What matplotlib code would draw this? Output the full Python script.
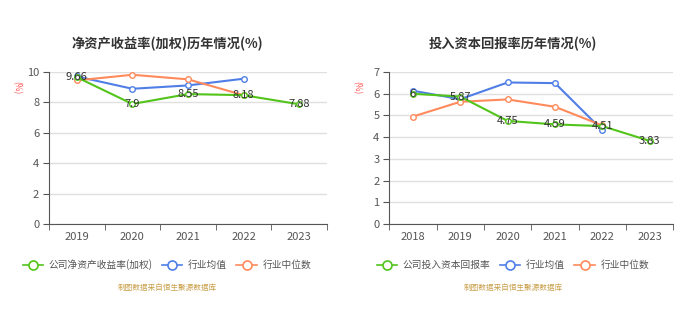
import matplotlib
matplotlib.use('Agg')
import matplotlib.pyplot as plt
from matplotlib.lines import Line2D
import numpy as np

plt.rcParams['font.family'] = ['Noto Sans CJK SC', 'DejaVu Sans']

# left chart: ROE (weighted)
years_l = ['2019', '2020', '2021', '2022', '2023']
roe_company = [9.66, 7.9, 8.55, 8.48, 7.88]
roe_avg = [9.71, 8.9, 9.12, 9.56, None]
roe_median = [9.45, 9.82, 9.52, 8.48, None]
roe_labels = ['9.66', '7.9', '8.55', '8.18', '7.88']

# right chart: ROIC
years_r = ['2018', '2019', '2020', '2021', '2022', '2023']
roic_company = [6.0, 5.87, 4.75, 4.59, 4.51, 3.83]
roic_avg = [6.14, 5.75, 6.52, 6.49, 4.32, None]
roic_median = [4.95, 5.63, 5.74, 5.40, 4.54, None]
roic_labels = ['6', '5.87', '4.75', '4.59', '4.51', '3.83']

GREEN = '#52c41a'
BLUE = '#4f7fe6'
ORANGE = '#ff8a5c'
AXC = '#555555'


def clean(vals):
    return np.array([np.nan if v is None else v for v in vals], dtype=float)


def draw(fig, ax, cx, years, comp, avg, med, labels, ymax, title, names):
    x = np.arange(len(years))
    for vals, c, z in [(avg, BLUE, 3), (med, ORANGE, 3), (comp, GREEN, 4)]:
        ax.plot(x, clean(vals), color=c, lw=1.5, marker='o', ms=4,
                mfc='white', mec=c, mew=1, zorder=z)
    for xi, v, t in zip(x, comp, labels):
        ax.text(xi, v, t, ha='center', va='center',
                fontsize=8, color='#333333', zorder=6)
    ax.set_xlim(-0.5, len(years) - 0.5)
    ax.set_ylim(0, ymax)
    ax.set_xticks(x)
    ax.set_xticklabels(years)
    ax.set_xticks(np.arange(len(years) + 1) - 0.5, minor=True)
    ax.tick_params(axis='x', which='major', length=0, labelsize=8,
                   labelcolor='#555555', pad=6)
    ax.tick_params(axis='x', which='minor', length=4, color=AXC)
    ax.tick_params(axis='y', length=4, color=AXC, labelsize=8,
                   labelcolor='#555555', pad=3)
    ax.grid(axis='y', color='#e0e0e0', lw=1)
    ax.set_axisbelow(True)
    for s in ['top', 'right']:
        ax.spines[s].set_visible(False)
    ax.spines['left'].set_color(AXC)
    ax.spines['bottom'].set_color(AXC)
    fig.text(cx, 0.867, title, fontsize=9.5, fontweight='bold',
             color='#333333', ha='center', va='center')
    ax.text(-0.115, 0.9, '(%)', transform=ax.transAxes, rotation=-90,
            fontsize=6, color='#ff5555', ha='center', va='center')
    handles = [Line2D([], [], color=c, lw=1.2, marker='o', ms=6.5,
                      mfc='white', mec=c, mew=1.2)
               for c in [GREEN, BLUE, ORANGE]]
    fig.legend(handles, names, loc='center', bbox_to_anchor=(cx, 1 - 265 / 332),
               ncol=3, frameon=False, fontsize=7, handlelength=2.1,
               handletextpad=0.6, columnspacing=0.95, labelcolor='#555555',
               borderaxespad=0, borderpad=0)
    fig.text(cx, 1 - 288 / 332, '制图数据来自恒生聚源数据库',
             ha='center', va='center', fontsize=5.5, color='#c9a04a')


fig = plt.figure(figsize=(7, 3.32), dpi=100)
ax1 = fig.add_axes([0.07, 0.325, 0.397, 0.458])
ax2 = fig.add_axes([0.556, 0.325, 0.406, 0.458])

draw(fig, ax1, 167 / 700, years_l, roe_company, roe_avg, roe_median, roe_labels, 10,
     '净资产收益率(加权)历年情况(%)', ['公司净资产收益率(加权)', '行业均值', '行业中位数'])
ax1.set_yticks([0, 2, 4, 6, 8, 10])
draw(fig, ax2, 513 / 700, years_r, roic_company, roic_avg, roic_median, roic_labels, 7,
     '投入资本回报率历年情况(%)', ['公司投入资本回报率', '行业均值', '行业中位数'])
ax2.set_yticks(range(0, 8))

fig.savefig('out.png', dpi=100)
